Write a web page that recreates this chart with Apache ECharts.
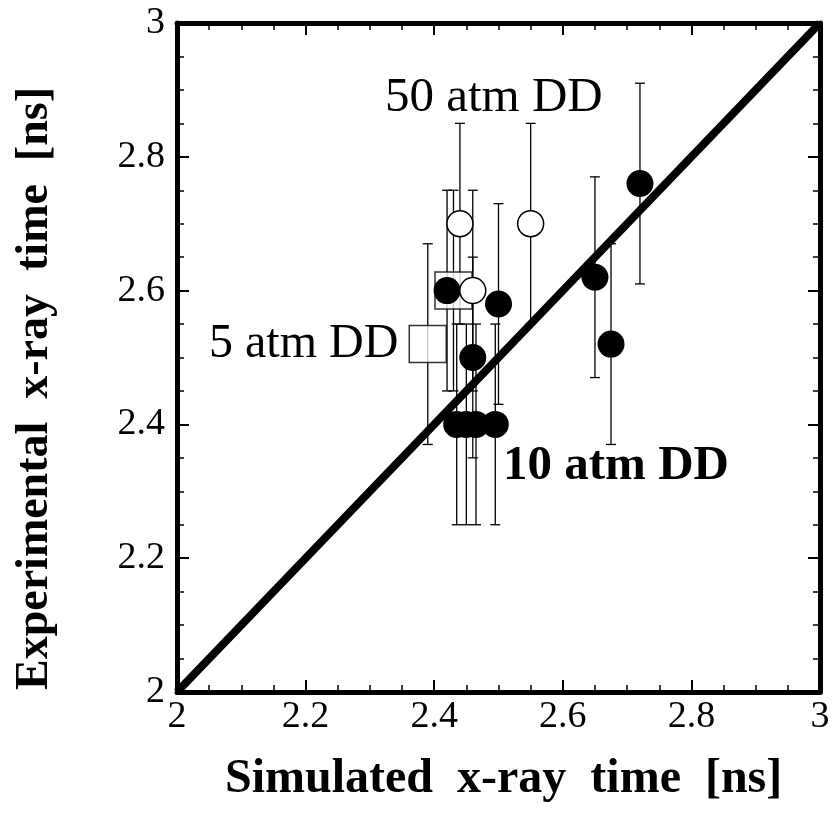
<!DOCTYPE html>
<html>
<head>
<meta charset="utf-8">
<script src="https://cdn.jsdelivr.net/npm/echarts@6/dist/echarts.min.js"></script>
<style>
  html, body { margin: 0; padding: 0; background: #fff; }
  #chart { width: 834px; height: 814px; }
</style>
</head>
<body>
<div id="chart"></div>
<script>
// filled circles (10 atm DD)
const filledX = [2.42, 2.50, 2.46, 2.435, 2.45, 2.465, 2.495, 2.65, 2.675, 2.72];
const filledY = [2.60, 2.58, 2.50, 2.40, 2.40, 2.40, 2.40, 2.62, 2.52, 2.76];
const filledErr = [0.15, 0.15, 0.15, 0.15, 0.15, 0.15, 0.15, 0.15, 0.15, 0.15];

// open circles (50 atm DD)
const openX = [2.44, 2.55, 2.46];
const openY = [2.70, 2.70, 2.60];
const openErr = [0.15, 0.15, 0.15];

// open squares (5 atm DD)
const squareX = [2.39, 2.43];
const squareY = [2.52, 2.60];
const squareErr = [0.15, 0.15];

// y = x reference line
const diagX = [2, 3];
const diagY = [2, 3];

const serif = "'Liberation Serif', 'DejaVu Serif', serif";

const chart = echarts.init(document.getElementById("chart"));

function pairs(xs, ys) {
  return xs.map((x, i) => [x, ys[i]]);
}

// error bars: [x, y, err]
const errData = []
  .concat(filledX.map((x, i) => [x, filledY[i], filledErr[i]]))
  .concat(openX.map((x, i) => [x, openY[i], openErr[i]]))
  .concat(squareX.map((x, i) => [x, squareY[i], squareErr[i]]));

function renderErr(params, api) {
  const x = api.value(0);
  const y = api.value(1);
  const e = api.value(2);
  const top = api.coord([x, y + e]);
  const bot = api.coord([x, y - e]);
  const w = 5;
  const style = { stroke: "#000", lineWidth: 1.3 };
  return {
    type: "group",
    children: [
      { type: "line", shape: { x1: top[0], y1: top[1], x2: bot[0], y2: bot[1] }, style },
      { type: "line", shape: { x1: top[0] - w, y1: top[1], x2: top[0] + w, y2: top[1] }, style },
      { type: "line", shape: { x1: bot[0] - w, y1: bot[1], x2: bot[0] + w, y2: bot[1] }, style },
    ],
  };
}

// shared axis look: thick frame, ticks pointing inward
function axisBase(show, margin) {
  return {
    type: "value",
    min: 2,
    max: 3,
    interval: 0.2,
    axisLine: { show: true, onZero: false, lineStyle: { color: "#000", width: 5 } },
    axisTick: { show: true, inside: true, length: 12, lineStyle: { color: "#000", width: 2 } },
    minorTick: { show: true, splitNumber: 4, length: 7, lineStyle: { color: "#000", width: 1.5 } },
    splitLine: { show: false },
    axisLabel: {
      show: show,
      margin: margin || 8,
      color: "#000",
      fontFamily: serif,
      fontSize: 38,
      formatter: (v) => String(Math.round(v * 10) / 10),
    },
  };
}

const option = {
  animation: false,
  backgroundColor: "#fff",
  grid: { left: 177, right: 14, top: 23, bottom: 122 },
  xAxis: [
    Object.assign(axisBase(true, 6), { position: "bottom" }),
    Object.assign(axisBase(false), { position: "top" }),
  ],
  yAxis: [
    Object.assign(axisBase(true, 12), { position: "left" }),
    Object.assign(axisBase(false), { position: "right" }),
  ],
  series: [
    {
      type: "custom",
      renderItem: renderErr,
      data: errData,
      z: 2,
      silent: true,
    },
    {
      type: "line",
      data: pairs(diagX, diagY),
      symbol: "none",
      lineStyle: { color: "#000", width: 8 },
      z: 3,
    },
    {
      type: "scatter",
      data: pairs(squareX, squareY),
      symbol: "rect",
      symbolSize: 37,
      itemStyle: { color: "#fff", borderColor: "#000", borderWidth: 1.5 },
      z: 4,
    },
    {
      type: "scatter",
      data: pairs(filledX, filledY),
      symbol: "circle",
      symbolSize: 27,
      itemStyle: { color: "#000", opacity: 1 },
      z: 5,
    },
    {
      type: "scatter",
      data: pairs(openX, openY),
      symbol: "circle",
      symbolSize: 26,
      itemStyle: { color: "#fff", borderColor: "#000", borderWidth: 1.5, opacity: 1 },
      z: 6,
    },
  ],
  graphic: [
    {
      type: "text",
      left: 385,
      top: 74,
      style: { text: "50 atm DD", font: "49px " + serif, fill: "#000" },
    },
    {
      type: "text",
      left: 209,
      top: 320,
      style: { text: "5 atm DD", font: "48px " + serif, fill: "#000" },
    },
    {
      type: "text",
      left: 503,
      top: 442,
      style: { text: "10 atm DD", font: "bold 49px " + serif, fill: "#000" },
    },
    {
      type: "text",
      left: 225,
      top: 756,
      style: { text: "Simulated  x-ray  time  [ns]", font: "bold 48px " + serif, fill: "#000" },
    },
    {
      type: "text",
      x: 12,
      y: 690,
      rotation: Math.PI / 2,
      style: { text: "Experimental  x-ray  time  [ns]", font: "bold 46px " + serif, fill: "#000", align: "left", verticalAlign: "top" },
    },
  ],
};

chart.setOption(option);
</script>
</body>
</html>
